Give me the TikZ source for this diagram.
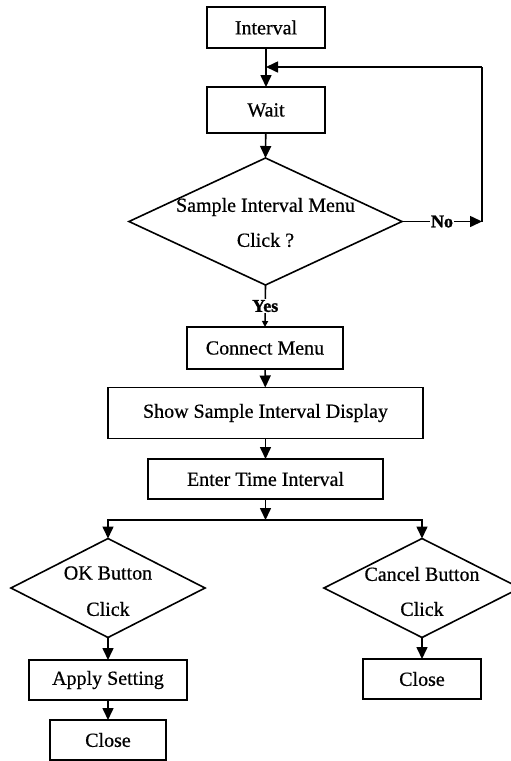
\documentclass[tikz,border=0pt]{standalone}
\usepackage{fontspec}
\setmainfont{Liberation Serif}[FakeBold=1.5]
\usetikzlibrary{shapes.geometric,arrows.meta,calc}
\newcommand{\tf}{\fontsize{20}{24}\selectfont\addfontfeatures{FakeBold=0.6}}
\newcommand{\tfb}{\fontsize{18}{22}\selectfont\bfseries}
\begin{document}
\begin{tikzpicture}[x=1pt,y=-1pt,
  box/.style={draw, line width=1.6pt, rectangle, inner sep=0pt, outer sep=0pt, font=\tf},
  dia/.style={draw, line width=1.6pt, diamond, inner sep=0pt, outer sep=0pt},
  txt/.style={inner sep=1pt, font=\tf},
  ln/.style={line width=1.6pt},
  arr/.style={line width=1.6pt, -{Triangle[length=12pt,width=11pt]}},
  arrs/.style={line width=1.6pt, -{Triangle[length=6pt,width=6pt]}},
  lab/.style={fill=white, inner sep=1pt, font=\tfb}]
\useasboundingbox (0,0) rectangle (511,761);
\clip (0,0) rectangle (511,761);
% main column
\node[box, minimum width=118pt, minimum height=41pt] (interval) at (266,27.5) {Interval};
\node[box, minimum width=118pt, minimum height=46pt] (wait) at (266,110) {Wait};
\node[dia, minimum width=273pt, minimum height=127pt] (d1) at (265.5,221.5) {};
\node[txt] (d1a) at (265.5,207) {Sample Interval Menu};
\node[txt] (d1b) at (265.5,240) {Click ?};
\node[box, minimum width=156pt, minimum height=42pt] (connect) at (265,348) {Connect Menu};
\node[box, minimum width=315pt, minimum height=51pt] (show) at (265.5,413) {Show Sample Interval Display};
\node[box, minimum width=235pt, minimum height=40pt] (enter) at (265.5,479) {Enter Time Interval};
% left branch
\node[dia, minimum width=194pt, minimum height=99pt] (okd) at (108,588) {};
\node[txt] (okda) at (108,573) {OK Button};
\node[txt] (okdb) at (108,609) {Click};
\node[box, minimum width=158pt, minimum height=40pt] (apply) at (108,680) {Apply Setting};
\node[box, minimum width=116pt, minimum height=40pt] (close1) at (108,740) {Close};
% right branch
\node[dia, minimum width=196pt, minimum height=99pt] (cad) at (422,588) {};
\node[txt] (cada) at (422,574) {Cancel Button};
\node[txt] (cadb) at (422,609) {Click};
\node[box, minimum width=118pt, minimum height=40pt] (close2) at (422,679) {Close};
% coordinates
\coordinate (jn) at (266,67);
\coordinate (nR) at (482,221.5);
\coordinate (nT) at (482,67);
\coordinate (br) at (265.5,520);
\coordinate (bl) at (108,520);
\coordinate (brr) at (422,520);
% connectors
\draw[arr] (interval) -- (wait);
\draw[arr] (wait) -- (d1.north);
\draw[arr] (d1.east) -- node[lab]{No} (nR);
\draw[ln] (nR) -- (nT);
\draw[arr] (nT) -- (jn);
\draw[arrs] (d1.south) -- node[lab]{Yes} (connect.north);
\draw[arr] (connect) -- (show);
\draw[arr] (show) -- (enter);
\draw[arr] (enter) -- (br);
\draw[arr] (br) -- (bl) -- (okd.north);
\draw[arr] (br) -- (brr) -- (cad.north);
\draw[arr] (okd.south) -- (apply.north);
\draw[arr] (apply) -- (close1);
\draw[arr] (cad.south) -- (close2.north);
\end{tikzpicture}
\end{document}
